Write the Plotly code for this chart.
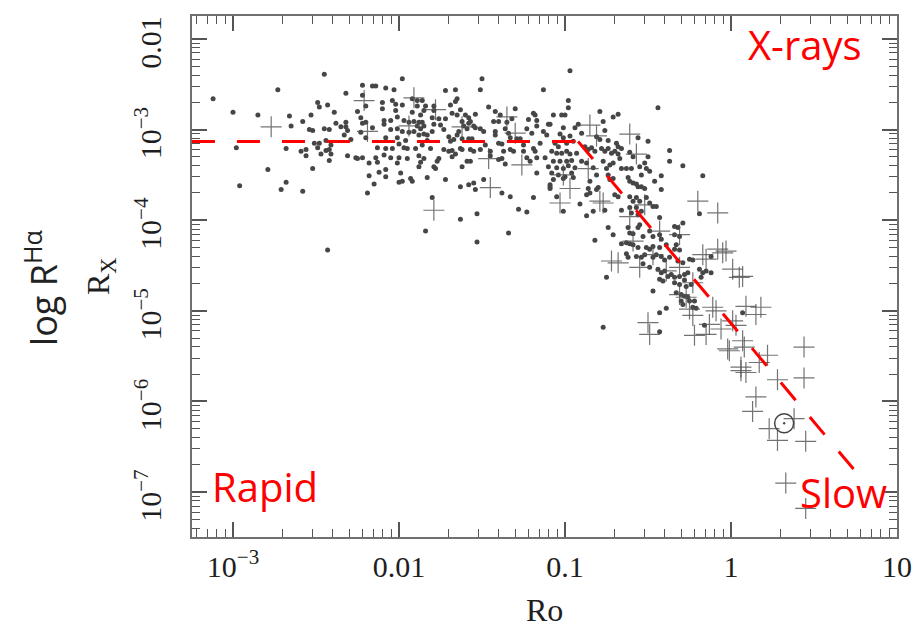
import plotly.graph_objects as go

# ---------------- data (log10 values) ----------------
# filled dots: log10(Ro), log10(Rx)
dots_a_lro = [-3.12,-3.00,-2.98,-2.96,-2.85,-2.79,-2.73,-2.66,-2.65,-2.68,
              -2.71,-2.68,-2.58,-2.58,-2.59,-2.56,-2.56,-2.54,-2.53,-2.52,
              -2.52,-2.51,-2.49,-2.48,-2.48,-2.49,-2.47,-2.45,-2.43,-2.45,
              -2.42,-2.44,-2.41,-2.44,-2.42,-2.41,-2.42,-2.39,-2.43,-2.38,
              -2.35,-2.33,-2.32,-2.32,-2.31,-2.29,-2.32,-2.31,-2.26,-2.25,
              -2.22,-2.25,-2.23,-2.22,-2.20,-2.20,-2.23,-2.22,-2.22,-2.20,
              -2.18,-2.18,-2.19]
dots_a_lrx = [-2.66,-2.81,-3.20,-3.62,-2.84,-3.44,-2.56,-2.85,-2.96,-3.21,
              -3.66,-3.58,-3.68,-2.91,-3.24,-3.22,-3.29,-3.00,-2.84,-3.43,
              -3.01,-3.15,-2.70,-2.75,-3.15,-3.20,-3.27,-2.39,-2.73,-2.99,
              -3.00,-3.12,-3.17,-3.23,-3.22,-3.27,-3.34,-2.81,-4.33,-2.93,
              -2.97,-3.06,-2.92,-2.97,-3.01,-3.11,-2.60,-3.29,-3.31,-3.32,
              -3.31,-2.80,-2.87,-2.93,-2.92,-3.09,-3.03,-2.51,-2.62,-2.74,
              -3.37,-3.51,-3.70]

dots_b_lro = [-1.98,-2.16,-2.14,-2.08,-2.03,-2.10,-2.10,-2.04,-2.02,-1.98,
              -2.02,-2.01,-2.09,-2.09,-2.05,-1.97,-1.94,-2.16,-2.05,-2.01,
              -1.98,-1.94,-2.08,-2.01,-1.96,-2.13,-2.08,-2.04,-2.00,-1.97,
              -2.14,-2.09,-2.05,-2.00,-1.95,-2.13,-2.01,-2.12,-2.08,-2.08,
              -1.99,-2.15,-2.00,-1.98,-1.93,-1.92,-1.92,-1.89,-1.86,-1.89,
              -1.92,-1.87,-1.84,-1.85,-1.79,-1.79,-1.80,-1.76,-1.75,-1.72,
              -1.91,-1.88,-1.86,-1.89,-1.87,-1.85,-1.91,-1.88,-1.85,-1.83,
              -1.80,-1.79,-1.83,-1.86,-1.81,-1.90,-1.95,-1.88,-1.85,-1.76,
              -1.77,-1.87,-1.88,-1.79,-1.78,-1.83,-1.80,-1.72,-1.66,-1.69,
              -1.65,-1.66,-1.68,-1.65,-1.63,-1.73,-1.70,-1.69,-1.67,-1.65,
              -1.62,-1.73,-1.70,-1.68,-1.66,-1.68,-1.72,-1.62,-1.61,-1.59,
              -1.64,-1.63,-1.62,-1.62,-1.59,-1.57,-1.63,-1.63,-1.60,-1.58,
              -1.58,-1.57,-1.55,-1.54,-1.58,-1.56,-1.54,-1.57,-1.55,-1.58,
              -1.55,-1.54,-1.53,-1.53,-1.50,-1.51,-1.51,-1.49,-1.51,-1.48,
              -1.46,-1.49,-1.45,-1.45,-1.42,-1.43,-1.42,-1.42,-1.39,-1.40,
              -1.40,-1.38,-1.37,-1.40,-1.38,-1.36,-1.38,-1.36,-1.34,-1.35,
              -1.33,-1.32,-1.30,-1.33,-1.31,-1.29,-1.33,-1.28,-1.23,-1.34,
              -1.27,-1.25,-1.25,-1.23,-1.22,-1.23,-1.21,-1.19,-1.18,-1.17,
              -1.17,-1.20,-1.19,-1.18,-1.17,-1.17,-1.19,-1.13,-1.15,-1.13,
              -1.11,-1.12,-1.10,-1.09,-1.09,-1.10,-1.84]
dots_b_lrx = [-2.44,-2.52,-2.52,-2.54,-2.56,-2.70,-2.77,-2.68,-2.72,-2.73,
              -2.79,-2.86,-2.90,-2.94,-2.90,-2.90,-2.92,-2.98,-3.00,-2.99,
              -3.02,-3.03,-3.09,-3.09,-3.12,-3.20,-3.21,-3.21,-3.16,-3.20,
              -3.31,-3.28,-3.31,-3.31,-3.32,-3.36,-3.37,-3.47,-3.44,-3.52,
              -3.48,-3.60,-3.58,-3.57,-3.54,-3.57,-2.66,-2.68,-2.68,-2.74,
              -2.81,-2.84,-2.74,-2.79,-2.74,-2.79,-2.87,-2.88,-2.95,-2.88,
              -2.91,-2.92,-2.92,-2.96,-2.99,-2.96,-3.02,-3.06,-3.05,-3.06,
              -3.02,-2.94,-3.12,-3.17,-3.21,-3.21,-3.21,-3.29,-3.32,-3.32,
              -3.35,-3.36,-3.41,-3.41,-3.43,-3.53,-3.75,-2.57,-2.56,-2.73,
              -2.66,-2.69,-2.82,-2.84,-2.78,-3.00,-3.08,-3.13,-3.11,-3.06,
              -3.10,-3.22,-3.24,-3.23,-3.27,-3.30,-3.55,-2.91,-2.96,-2.99,
              -3.02,-3.21,-3.22,-3.41,-3.35,-3.35,-3.63,-3.99,-2.84,-2.87,
              -2.93,-2.91,-2.96,-2.98,-3.10,-3.10,-2.83,-3.22,-3.24,-3.61,
              -3.59,-3.66,-3.93,-4.24,-2.44,-2.56,-2.99,-3.02,-3.22,-3.17,
              -2.75,-3.55,-3.24,-3.29,-2.80,-2.91,-3.02,-3.06,-2.84,-2.91,
              -3.15,-3.16,-3.24,-3.33,-3.32,-3.38,-3.70,-2.99,-3.04,-2.92,
              -3.09,-2.88,-2.77,-3.22,-3.24,-3.10,-3.74,-3.88,-3.91,-4.14,
              -3.10,-3.17,-3.24,-2.99,-2.89,-3.31,-3.35,-2.82,-2.84,-2.90,
              -2.96,-3.04,-3.21,-3.24,-3.31,-3.48,-3.75,-2.56,-3.15,-3.02,
              -3.06,-3.31,-3.41,-3.61,-3.65,-2.94,-4.12]

dots_c_lro = [-0.97,-0.98,-0.98,-0.79,-0.44,-1.07,-1.02,-1.00,-0.71,-0.68,
              -1.09,-1.01,-0.94,-0.92,-0.90,-0.97,-0.77,-0.76,-0.81,-1.03,
              -1.01,-1.06,-1.04,-0.99,-0.95,-0.79,-0.74,-0.69,-0.68,-0.66,
              -0.56,-0.50,-1.08,-1.05,-1.02,-0.99,-0.97,-0.93,-0.88,-0.86,
              -0.84,-0.82,-0.78,-0.76,-0.74,-0.72,-0.70,-0.68,-0.67,-0.61,
              -0.59,-0.50,-0.52,-0.37,-0.37,-0.29,-1.07,-1.03,-0.99,-0.96,
              -1.05,-1.01,-0.98,-0.94,-1.08,-1.04,-1.00,-0.96,-1.07,-1.01,
              -0.95,-1.09,-0.90,-0.87,-0.83,-0.77,-0.75,-0.73,-0.71,-0.66,
              -0.63,-0.60,-0.55,-0.54,-0.51,-0.49,-0.46,-0.42,-0.42,-0.81,
              -0.85,-0.86,-0.74,-0.73,-0.71,-0.62,-0.61,-0.59,-0.57,-0.56,
              -0.81,-0.80,-0.87,-0.85,-0.70,-0.68,-0.54,-0.52,-1.05,-1.01,
              -0.91,-0.87,-0.83,-0.66,-0.61,-0.59,-0.57,-0.55,-0.51,-0.49,
              -0.47,-0.45,-0.61,-0.60,-0.57,-0.56,-0.54,-0.43,-0.19,-0.17,
              -0.82,-0.76]
dots_c_lrx = [-2.35,-2.68,-2.76,-2.80,-2.76,-2.84,-2.84,-2.84,-2.86,-2.83,
              -2.94,-2.98,-2.98,-2.94,-3.04,-3.07,-2.91,-3.01,-3.08,-3.05,
              -3.09,-3.15,-3.19,-3.15,-3.13,-3.11,-3.12,-3.15,-3.19,-3.21,
              -3.09,-3.13,-3.24,-3.26,-3.26,-3.24,-3.27,-3.26,-3.19,-3.22,
              -3.20,-3.24,-3.21,-3.24,-3.21,-3.26,-3.24,-3.27,-3.32,-3.25,
              -3.30,-3.30,-3.37,-3.23,-3.35,-3.40,-3.35,-3.35,-3.35,-3.34,
              -3.42,-3.43,-3.40,-3.42,-3.48,-3.50,-3.52,-3.48,-3.55,-3.54,
              -3.53,-3.63,-3.35,-3.37,-3.42,-3.35,-3.43,-3.39,-3.37,-3.43,
              -3.43,-3.43,-3.41,-3.50,-3.43,-3.46,-3.57,-3.51,-3.66,-3.50,
              -3.57,-3.65,-3.50,-3.55,-3.54,-3.53,-3.57,-3.59,-3.60,-3.63,
              -3.66,-3.64,-3.72,-3.70,-3.72,-3.74,-3.63,-3.65,-3.74,-3.90,
              -3.82,-3.95,-3.90,-3.89,-3.74,-3.79,-3.75,-3.79,-3.75,-3.81,
              -3.85,-3.85,-3.86,-3.92,-3.86,-3.94,-3.90,-3.97,-3.93,-3.51,
              -4.22,-3.89]

dots_d_lro = [-0.74,-0.71,-0.62,-0.61,-0.59,-0.55,-0.56,-0.49,-0.47,-0.53,
              -0.43,-0.42,-0.34,-0.32,-0.29,-0.34,-0.31,-0.66,-0.63,-0.61,
              -0.59,-0.56,-0.51,-0.49,-0.47,-0.43,-0.39,-0.33,-0.34,-0.31,
              -0.63,-0.62,-0.57,-0.54,-0.52,-0.47,-0.45,-0.42,-0.40,-0.37,
              -0.32,-0.29,-0.25,-0.23,-0.12,-0.53,-0.49,-0.44,-0.42,-0.40,
              -0.38,-0.36,-0.34,-0.31,-0.28,-0.26,-0.19,-0.17,-0.15,-0.18,
              -0.12,-0.75,-0.43,-0.41,-0.34,-0.31,-0.28,-0.27,-0.24,-0.47,
              -0.33,-0.30,-0.28,-0.26,-0.25,-0.22,-0.23,-0.21,-0.39,-0.43,
              -0.30,-0.29,-0.16,0.07,-0.77,-0.43]
dots_d_lrx = [-4.08,-4.16,-4.08,-4.14,-4.15,-4.05,-4.08,-4.12,-4.18,-4.18,
              -4.16,-4.21,-4.07,-4.08,-4.03,-4.16,-4.18,-4.26,-4.25,-4.26,
              -4.27,-4.30,-4.30,-4.32,-4.29,-4.30,-4.27,-4.27,-4.32,-4.33,
              -4.37,-4.41,-4.40,-4.41,-4.38,-4.41,-4.38,-4.40,-4.44,-4.41,
              -4.45,-4.47,-4.43,-4.44,-4.40,-4.48,-4.52,-4.54,-4.58,-4.56,
              -4.62,-4.60,-4.63,-4.62,-4.60,-4.58,-4.54,-4.58,-4.56,-4.63,
              -4.58,-4.63,-4.65,-4.67,-4.69,-4.71,-4.66,-4.73,-4.71,-4.78,
              -4.80,-4.82,-4.84,-4.85,-4.89,-4.89,-4.96,-4.97,-4.97,-5.02,
              -4.89,-4.93,-5.16,-5.02,-5.18,-5.23]

# crosses: log10(Ro), log10(Rx)
cross_lro = [-2.77,-2.21,-2.19,-1.91,-1.78,-1.94,-1.62,-1.35,-1.30,-1.46,
             -1.26,-1.45,-1.79,-0.85,-0.81,-0.61,-0.57,-0.86,-1.01,-0.97,
             -1.03,-0.79,-0.77,-0.52,-0.61,-0.20,-0.08,-0.43,-0.68,-0.55,
             -0.59,-0.47,-0.39,-0.31,-0.31,-0.17,-0.15,-0.08,-0.05,-0.03,
             0.01,0.05,0.07,-0.31,-0.27,-0.23,-0.50,-0.49,-0.25,-0.23,
             -0.11,-0.09,0.09,0.18,0.15,-0.22,-0.13,-0.15,-0.06,0.01,
             0.03,-0.02,-0.01,0.07,0.08,0.22,0.17,0.06,0.06,0.09,
             0.44,0.28,0.44,0.15,0.13,0.38,0.23,0.28,0.45,0.33,
             0.45,-0.72]
cross_lrx = [-2.97,-2.68,-3.02,-2.65,-2.78,-2.96,-2.97,-2.86,-3.04,-3.32,
             -3.39,-3.64,-3.89,-2.95,-3.07,-3.05,-3.27,-3.43,-3.50,-3.65,
             -3.81,-3.79,-3.81,-3.83,-3.96,-3.79,-3.92,-4.12,-4.47,-4.52,
             -4.23,-4.38,-4.56,-4.52,-4.16,-4.38,-4.43,-4.32,-4.36,-4.34,
             -4.54,-4.63,-4.62,-4.82,-4.85,-4.69,-5.13,-5.26,-4.98,-5.05,
             -4.96,-5.00,-4.95,-4.96,-5.04,-5.27,-5.15,-5.26,-5.20,-5.11,
             -5.16,-5.42,-5.44,-5.33,-5.40,-5.49,-5.57,-5.62,-5.66,-5.68,
             -5.40,-5.76,-5.74,-5.95,-6.11,-6.19,-6.30,-6.43,-6.44,-6.90,
             -7.18,-4.45]

# the Sun
sun_ro = [2.09]
sun_rx = [5.75e-7]

# saturated / unsaturated regime model line
sat_ro = [5.66e-4, 0.12]
sat_rx = [7.4e-4, 7.4e-4]
unsat_ro = [0.12, 5.74]
unsat_rx = [7.4e-4, 1.62e-7]

x_tickvals = [1e-3, 1e-2, 1e-1, 1, 10]
x_ticktext = ["10<sup>\u22123</sup>", "0.01", "0.1", "1", "10"]
y_tickvals = [1e-7, 1e-6, 1e-5, 1e-4, 1e-3, 1e-2]
y_ticktext = ["10<sup>\u22127</sup>", "10<sup>\u22126</sup>", "10<sup>\u22125</sup>",
              "10<sup>\u22124</sup>", "10<sup>\u22123</sup>", "0.01"]

x_range_log = [-3.247, 1.0]
y_range_log = [-7.495, -1.747]

# ---------------- figure ----------------
def pw(vals):
    return [10 ** v for v in vals]

dots_lro = dots_a_lro + dots_b_lro + dots_c_lro + dots_d_lro
dots_lrx = dots_a_lrx + dots_b_lrx + dots_c_lrx + dots_d_lrx
assert len(dots_lro) == len(dots_lrx)
assert len(cross_lro) == len(cross_lrx)

fig = go.Figure()
fig.add_trace(go.Scatter(x=pw(dots_lro), y=pw(dots_lrx), mode="markers",
                         marker=dict(symbol="circle", size=5, color="#464646",
                                     line=dict(width=0)),
                         hoverinfo="skip", showlegend=False))
fig.add_trace(go.Scatter(x=pw(cross_lro), y=pw(cross_lrx), mode="markers",
                         marker=dict(symbol="cross-thin", size=15,
                                     line=dict(width=1.2, color="rgba(80,80,80,0.8)")),
                         hoverinfo="skip", showlegend=False))
for xs, ys in ((sat_ro, sat_rx), (unsat_ro, unsat_rx)):
    fig.add_trace(go.Scatter(x=xs, y=ys, mode="lines",
                             line=dict(color="#ff0000", width=3, dash="23px,22px"),
                             hoverinfo="skip", showlegend=False))
fig.add_trace(go.Scatter(x=sun_ro, y=sun_rx, mode="markers",
                         marker=dict(symbol="circle-open-dot", size=19, color="#444444",
                                     line=dict(width=1.5, color="#444444")),
                         hoverinfo="skip", showlegend=False))

tick_font = dict(family="Liberation Serif", size=30, color="#1e1e1e")
common = dict(type="log", showgrid=False, zeroline=False, showline=True,
              linecolor="#707070", linewidth=2, mirror="ticks",
              ticks="inside", ticklen=15, tickwidth=1.5, tickcolor="#555555",
              tickfont=tick_font,
              minor=dict(ticks="inside", ticklen=8, tickwidth=1.2,
                         tickcolor="#555555", dtick="D1", showgrid=False))

fig.update_xaxes(range=x_range_log, tickmode="array", tickvals=x_tickvals,
                 ticktext=x_ticktext, ticklabelstandoff=2, **common)
fig.update_yaxes(range=y_range_log, tickmode="array", tickvals=y_tickvals,
                 ticktext=y_ticktext, tickangle=-90, ticklabelstandoff=17,
                 ticklabelshift=8, **common)

# page body adds an 8 px offset, so the figure is sized to fit the window
OFF = 8
W, H = 920 - OFF, 627 - OFF
PL, PT, PR, PB = 192, 14, 897, 537          # plot-area edges in window pixels
L, T = PL - OFF, PT - OFF
R, B = W - (PR - OFF), H - (PB - OFF)

def px(xp):
    return (xp - PL) / (PR - PL)

def py(yp):
    return (PB - yp) / (PB - PT)

red_font = dict(family="Open Sans", size=40, color="#ff0000")
annotations = [
    dict(text="X-rays", x=px(805), y=py(43), font=red_font),
    dict(text="Rapid", x=px(265), y=py(486), font=red_font),
    dict(text="Slow", x=px(843), y=py(492), font=red_font),
    dict(text="Ro", x=0.5, y=py(610), font=dict(family="Liberation Serif", size=32, color="#1e1e1e")),
    dict(text="R<sub>X</sub>", x=px(100), y=py(275), textangle=-90,
         font=dict(family="Liberation Serif", size=32, color="#1e1e1e")),
    dict(text="log R<sup>H\u03b1</sup>", x=px(42), y=py(287), textangle=-90,
         font=dict(family="Open Sans", size=36, color="#222222")),
]
for a in annotations:
    a.update(xref="paper", yref="paper", showarrow=False,
             xanchor="center", yanchor="middle")

fig.update_layout(width=W, height=H, margin=dict(l=L, r=R, t=T, b=B),
                  paper_bgcolor="white", plot_bgcolor="white",
                  showlegend=False, annotations=annotations)

fig.write_html("out.html")
